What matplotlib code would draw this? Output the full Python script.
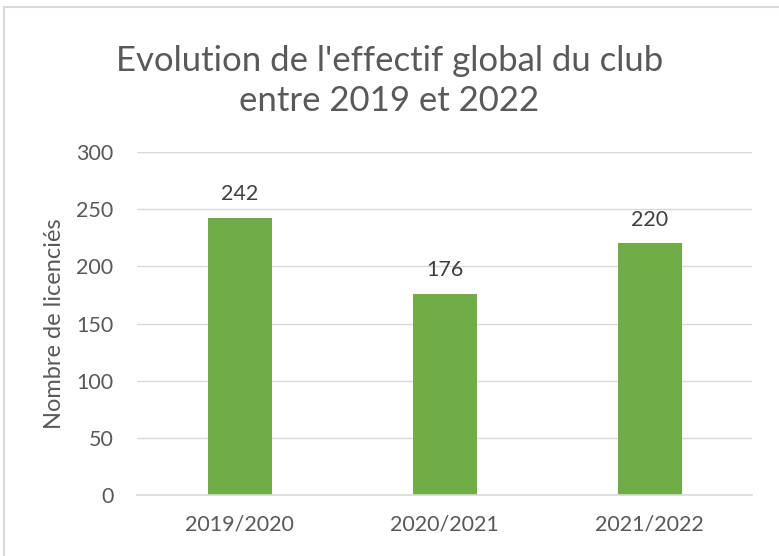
import matplotlib
matplotlib.use("Agg")
import matplotlib.pyplot as plt
from matplotlib.patches import Rectangle

categories = ["2019/2020", "2020/2021", "2021/2022"]
values = [242, 176, 220]
yticks = [0, 50, 100, 150, 200, 250, 300]

W, H = 779, 556
plt.rcParams['font.family'] = ['Lato', 'DejaVu Sans']
fig = plt.figure(figsize=(W / 100, H / 100), dpi=100)

# chart border (cropped on right/bottom)
fig.patches.append(Rectangle((4 / W, -0.1), 1.2, (H - 7) / H + 0.1, transform=fig.transFigure,
                             fill=False, edgecolor="#D9D9D9", linewidth=1.5))

ax = fig.add_axes([137 / W, (H - 495) / H, (752 - 137) / W, (495 - 152) / H])
x = list(range(len(categories)))
bars = ax.bar(x, values, width=64 / 205, color="#70AD47", zorder=3)
ax.set_xlim(-0.5, 2.5)
ax.set_ylim(0, 300)
ax.set_yticks(yticks)
ax.set_xticks(x)
ax.set_xticklabels(categories)
ax.tick_params(length=0, labelsize=15.5, colors="#595959")
ax.tick_params(axis='y', pad=17)
ax.tick_params(axis='x', pad=14)
ax.grid(axis='y', color="#D9D9D9", linewidth=1, zorder=0)
for s in ["top", "right", "left"]:
    ax.spines[s].set_visible(False)
ax.spines["bottom"].set_color("#D9D9D9")
ax.spines["bottom"].set_linewidth(1.2)
ax.spines["bottom"].set_zorder(4)

for xi, v in zip(x, values):
    ax.annotate(str(v), (xi, v), xytext=(0, 10), textcoords="offset points",
                ha="center", va="bottom", fontsize=15.5, color="#404040")

ax.set_ylabel("Nombre de licenciés", fontsize=17, color="#595959", labelpad=8)

fig.text(0.5, (H - 81) / H, "Evolution de l'effectif global du club\nentre 2019 et 2022",
         ha="center", va="center", fontsize=25, color="#595959", linespacing=1.3)

fig.savefig("out.png", dpi=100)
